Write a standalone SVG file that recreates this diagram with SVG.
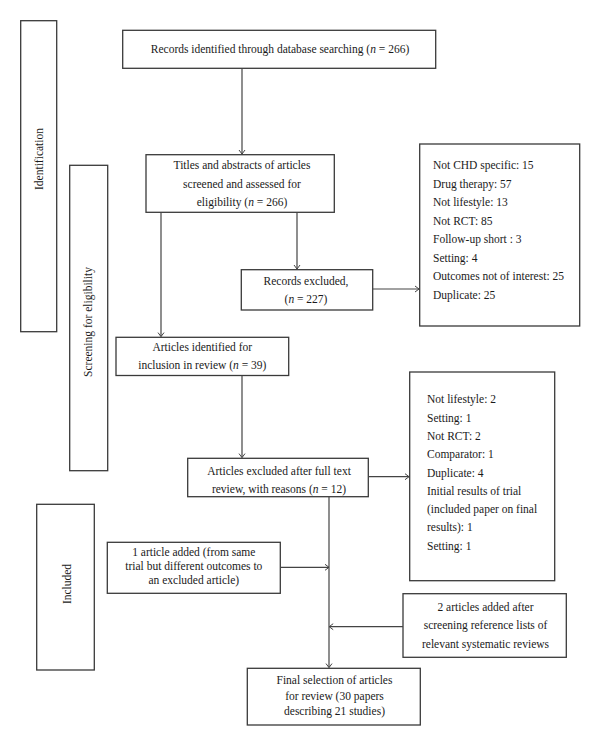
<svg xmlns="http://www.w3.org/2000/svg" width="600" height="746" viewBox="0 0 600 746">
<style>
.box{fill:#fff;stroke:#3a3a3a;stroke-width:1.3}
text{font-family:"Liberation Serif","Times New Roman",serif;font-size:11.5px;fill:#1a1a1a}
.c{text-anchor:middle}
.i{font-style:italic}
.ln{stroke:#444;stroke-width:1.2;fill:none;marker-end:url(#ah)}
</style>
<defs>
<marker id="ah" markerUnits="userSpaceOnUse" markerWidth="8" markerHeight="8" viewBox="-5 -4 6 8" refX="0" refY="0" orient="auto">
<path d="M-4,-3 L0,0 L-4,3" fill="none" stroke="#444" stroke-width="1"/>
</marker>
</defs>
<rect width="600" height="746" fill="#fff"/>

<g id="stage-identification">
<rect class="box" x="20.7" y="20.7" width="36" height="311"/>
<text class="c" transform="translate(43,159) rotate(-90)">Identification</text>
</g>
<g id="stage-screening">
<rect class="box" x="69.7" y="165.3" width="38" height="305.4"/>
<text class="c" transform="translate(92,322) rotate(-90)">Screening for eligibility</text>
</g>
<g id="stage-included">
<rect class="box" x="36.7" y="504.3" width="57.6" height="165.7"/>
<text class="c" transform="translate(71,584) rotate(-90)">Included</text>
</g>

<g id="records">
<rect class="box" x="122.7" y="30.3" width="313" height="38"/>
<text class="c" x="280" y="53">Records identified through database searching (<tspan class="i">n</tspan> = 266)</text>
</g>
<g id="titles">
<rect class="box" x="146" y="154.7" width="188.3" height="57.6"/>
<text class="c" x="242" y="169">Titles and abstracts of articles</text>
<text class="c" x="242" y="187.5">screened and assessed for</text>
<text class="c" x="242" y="206">eligibility (<tspan class="i">n</tspan> = 266)</text>
</g>
<g id="notes1">
<rect class="box" x="419.7" y="144" width="160" height="182"/>
<text x="433" y="169.3">Not CHD specific: 15</text>
<text x="433" y="187.8">Drug therapy: 57</text>
<text x="433" y="206.3">Not lifestyle: 13</text>
<text x="433" y="224.8">Not RCT: 85</text>
<text x="433" y="243.3">Follow-up short : 3</text>
<text x="433" y="261.8">Setting: 4</text>
<text x="433" y="280.3">Outcomes not of interest: 25</text>
<text x="433" y="298.8">Duplicate: 25</text>
</g>
<g id="records-excluded">
<rect class="box" x="241.3" y="269.7" width="131.4" height="40.3"/>
<text class="c" x="306" y="284.5">Records excluded,</text>
<text class="c" x="306" y="303.3">(<tspan class="i">n</tspan> = 227)</text>
</g>
<g id="articles-identified">
<rect class="box" x="116" y="337.3" width="172.7" height="38.2"/>
<text class="c" x="202.3" y="351">Articles identified for</text>
<text class="c" x="202.3" y="368.5">inclusion in review (<tspan class="i">n</tspan> = 39)</text>
</g>
<g id="notes2">
<rect class="box" x="409.7" y="372" width="145" height="208.7"/>
<text x="427" y="403.3">Not lifestyle: 2</text>
<text x="427" y="421.6">Setting: 1</text>
<text x="427" y="439.9">Not RCT: 2</text>
<text x="427" y="458.2">Comparator: 1</text>
<text x="427" y="476.5">Duplicate: 4</text>
<text x="427" y="494.8">Initial results of trial</text>
<text x="427" y="513.1">(included paper on final</text>
<text x="427" y="531.4">results): 1</text>
<text x="427" y="549.7">Setting: 1</text>
</g>
<g id="articles-excluded">
<rect class="box" x="187.7" y="458.3" width="180.6" height="38.4"/>
<text class="c" x="279" y="475">Articles excluded after full text</text>
<text class="c" x="279" y="492.5">review, with reasons (<tspan class="i">n</tspan> = 12)</text>
</g>
<g id="one-article">
<rect class="box" x="107.3" y="542.3" width="173" height="51"/>
<text class="c" x="193.8" y="555.5">1 article added (from same</text>
<text class="c" x="193.8" y="569.7">trial but different outcomes to</text>
<text class="c" x="193.8" y="583.5">an excluded article)</text>
</g>
<g id="two-articles">
<rect class="box" x="403" y="593.7" width="163.3" height="63.6"/>
<text class="c" x="485.5" y="610.5">2 articles added after</text>
<text class="c" x="485.5" y="629">screening reference lists of</text>
<text class="c" x="485.5" y="647.5">relevant systematic reviews</text>
</g>
<g id="final">
<rect class="box" x="247.3" y="668.3" width="173" height="56.7"/>
<text class="c" x="334.5" y="684">Final selection of articles</text>
<text class="c" x="334.5" y="699.5">for review (30 papers</text>
<text class="c" x="334.5" y="714.5">describing 21 studies)</text>
</g>

<g id="connectors">
<path class="ln" d="M242,68.3 V154"/>
<path class="ln" d="M161,212.3 V336.6"/>
<path class="ln" d="M297,212.3 V269"/>
<path class="ln" d="M372.7,289 H419"/>
<path class="ln" d="M242,375.5 V457.6"/>
<path class="ln" d="M368.3,476.7 H409"/>
<path class="ln" d="M329,496.7 V667.6"/>
<path class="ln" d="M280.3,567.3 H329"/>
<path class="ln" d="M403,626.7 H329.2"/>
</g>
</svg>
